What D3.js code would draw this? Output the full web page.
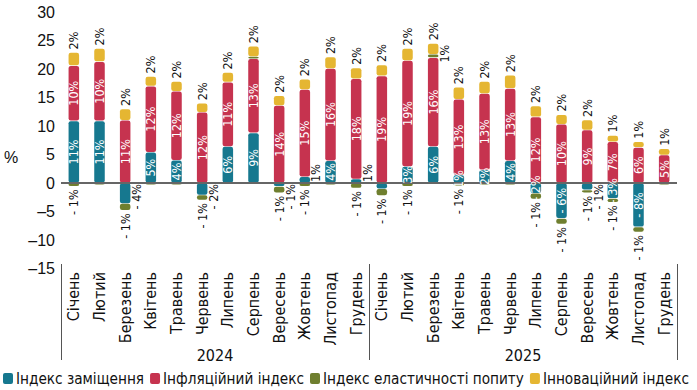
<!DOCTYPE html>
<html><head><meta charset="utf-8">
<script src="https://cdn.jsdelivr.net/npm/d3@7"></script>
<style>
html,body{margin:0;padding:0;background:#fff;}
svg{display:block;}
</style></head>
<body>
<svg id="chart" width="697" height="390"></svg>
<script>
// ---- data ----
const monthNames = ["Січень","Лютий","Березень","Квітень","Травень","Червень","Липень","Серпень","Вересень","Жовтень","Листопад","Грудень"];
const years = ["2024","2025"];
const seriesNames = ["Індекс заміщення","Інфляційний індекс","Індекс еластичності попиту","Інноваційний індекс"];
const substitution = [10.9,10.9,-3.6,5.4,4.0,-2.1,6.4,8.8,-0.6,1.1,3.9,0.7, -1.0,2.9,6.4,1.4,2.3,3.9,-1.8,-6.2,-1.2,-2.7,-7.7,0];
const inflation    = [9.7,10.4,11.0,11.6,12.1,12.4,11.3,13.0,13.6,15.3,16.2,17.6, 18.8,18.6,15.6,13.3,13.4,12.7,11.6,10.3,9.3,7.25,6.25,4.9];
const elasticity   = [-0.6,-0.3,-1.2,-0.3,-0.3,-0.9,-0.2,0.4,-1.1,-0.6,-0.3,-0.9, -1.2,-0.6,0.6,-0.5,-0.3,-0.3,-1.0,-1.0,-0.5,-0.7,-0.9,-0.3];
const innovation   = [2.3,2.3,2.0,1.7,1.7,1.6,1.7,1.8,1.7,1.8,2.0,1.9, 1.9,2.1,1.9,2.1,2.1,2.3,1.9,1.7,1.75,1.1,1.0,1.1];
const yTicks = [-15,-10,-5,0,5,10,15,20,25,30];

// ---- presentation ----
const colors = ["#16788f","#c6334f","#6f7f2f","#e5b632"];
const tealOutside = new Set([2,5,8,9,11,20]);
const tealHidden = new Set([12,23]);
const FONT = "'Liberation Sans Narrow','DejaVu Sans Condensed','Liberation Sans',sans-serif";

const keys = ["s","i","e","n"];
const rows = [];
years.forEach((y,yi)=>monthNames.forEach((m,mi)=>{
  const k = yi*12+mi;
  rows.push({idx:k, month:m, year:y, s:substitution[k], i:inflation[k], e:elasticity[k], n:innovation[k]});
}));

const svg = d3.select("#chart");
const x = d3.scaleBand().domain(rows.map(d=>d.idx)).range([61,677]).paddingInner(0.59).paddingOuter(0.295);
const y = d3.scaleLinear().domain([-15,30]).range([268.5,12]);

const stack = d3.stack().keys(keys).offset(d3.stackOffsetDiverging);
const stacked = stack(rows);

const fmt = v => { const r = Math.round(Math.abs(v)); return (v<0 ? "- " : "") + r + "%"; };

// y tick labels
svg.append("g").selectAll("text").data(yTicks).join("text")
  .attr("x",55).attr("y",d=>y(d)).attr("dy","0.36em")
  .attr("text-anchor","end").attr("font-family","'Liberation Sans',Arial,sans-serif")
  .attr("font-size",16).attr("fill","#111")
  .text(d=> d<0 ? "\u2013" + Math.abs(d) : d);
svg.append("text").attr("x",4).attr("y",163).attr("font-family","'Liberation Sans',Arial,sans-serif")
  .attr("font-size",16).attr("fill","#111").text("%");

// bars
const bw = x.bandwidth();
const gBars = svg.append("g");
stacked.forEach((ser,si)=>{
  gBars.append("g").attr("fill",colors[si]).selectAll("rect")
    .data(ser.filter(d=>Math.abs(d[1]-d[0])>0.01)).join("rect")
    .attr("x",d=>x(d.data.idx))
    .attr("width",bw)
    .attr("y",d=>y(Math.max(d[0],d[1]))+0.3)
    .attr("height",d=>Math.max(0.8,Math.abs(y(d[0])-y(d[1]))-0.6))
    .attr("rx",2.2).attr("ry",2.2);
});

// zero line
svg.append("line").attr("x1",61).attr("x2",677).attr("y1",y(0)).attr("y2",y(0))
  .attr("stroke","#666").attr("stroke-width",2);

// labels
const gL = svg.append("g").attr("font-family",FONT).attr("font-size",12.5);
function rlabel(cx, cy, txt, anchor, fill){
  gL.append("text").attr("transform",`translate(${cx},${cy}) rotate(-90)`)
    .attr("text-anchor",anchor).attr("dy","0.35em").attr("fill",fill).text(txt);
}
rows.forEach((d,k)=>{
  const cx = x(k)+bw/2;
  const segS = stacked[0][k], segI = stacked[1][k], segE = stacked[2][k], segN = stacked[3][k];
  if(!tealHidden.has(k) && d.s!==0){
    if(tealOutside.has(k)){
      if(d.s<0) rlabel(cx+11, y(0)+1, fmt(d.s), "end", "#111");
      else rlabel(cx+11, y(0)-1, fmt(d.s), "start", "#111");
    } else {
      rlabel(cx, y((segS[0]+segS[1])/2), fmt(d.s), "middle", "#fff");
    }
  }
  rlabel(cx, y((segI[0]+segI[1])/2), fmt(d.i), "middle", "#fff");
  if(Math.abs(d.e)>=0.45){
    if(d.e<0){
      const bottom = Math.min(segE[0],segE[1]);
      rlabel(cx, y(bottom)+3, fmt(d.e), "end", "#111");
    } else {
      rlabel(cx+11, y(segE[0])+5, fmt(d.e), "start", "#111");
    }
  }
  rlabel(cx, y(segN[1])-3, fmt(d.n), "start", "#111");
});

// month labels
svg.append("g").attr("font-family",FONT).attr("font-size",16).selectAll("text")
  .data(rows).join("text")
  .attr("transform",d=>`translate(${x(d.idx)+bw/2},272) rotate(-90)`)
  .attr("text-anchor","end").attr("dy","0.35em").attr("fill","#111")
  .text(d=>d.month);

// year groups
const step = x.step();
years.forEach((yr,yi)=>{
  const x0 = 61 + yi*12*step, x1 = x0 + 12*step;
  svg.append("text").attr("x",(x0+x1)/2).attr("y",361).attr("text-anchor","middle")
    .attr("font-family",FONT).attr("font-size",16).attr("fill","#111").text(yr);
});
[0,12,24].forEach(i=>{
  const xx = 61 + i*step + 0.5;
  svg.append("line").attr("x1",xx).attr("x2",xx).attr("y1",264).attr("y2",360)
    .attr("stroke","#555").attr("stroke-width",1);
});

// legend
const lg = svg.append("g").attr("font-family",FONT).attr("font-size",15.2);
let lx = 3;
seriesNames.forEach((nm,i)=>{
  lg.append("rect").attr("x",lx).attr("y",373).attr("width",10).attr("height",11).attr("rx",2).attr("fill",colors[i]);
  const t = lg.append("text").attr("x",lx+13).attr("y",384).attr("fill","#111").text(nm);
  lx += 13 + t.node().getComputedTextLength() + 6;
});
</script>
</body></html>
